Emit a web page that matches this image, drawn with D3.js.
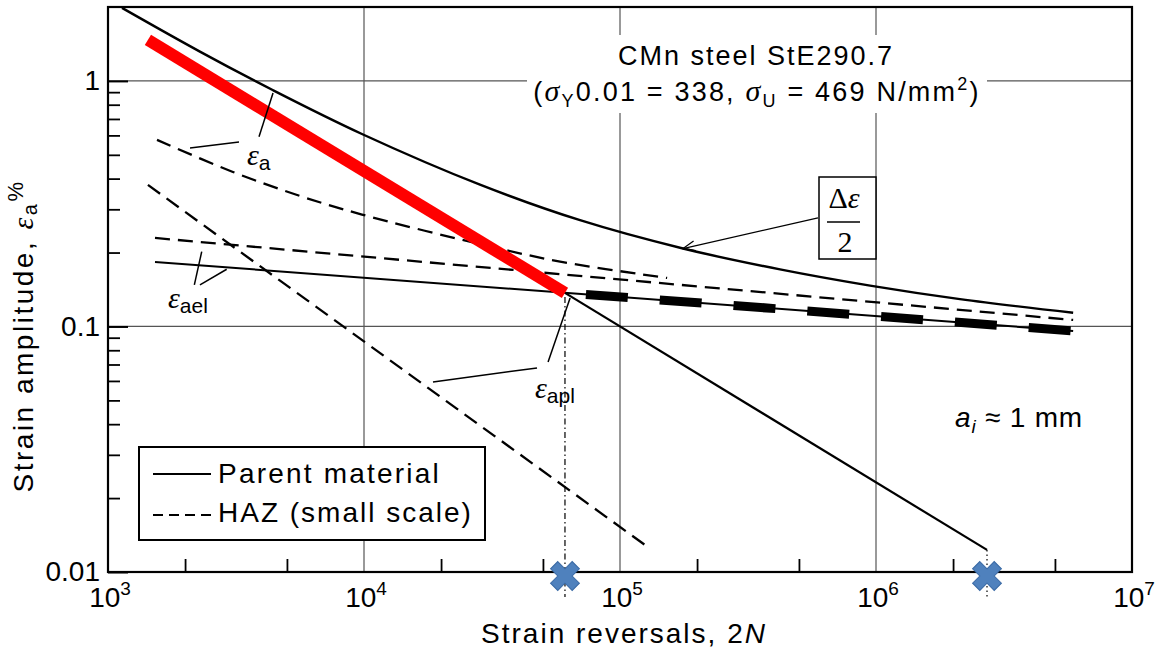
<!DOCTYPE html>
<html><head><meta charset="utf-8">
<script src="https://cdn.jsdelivr.net/npm/d3@7"></script>
<style>
body{margin:0;background:#fff;}
text{font-family:"Liberation Sans",Arial,sans-serif;fill:#000;}
</style></head><body>
<svg id="chart" width="1161" height="652"></svg>
<script>
// ---------------- DATA ----------------
// Parent material, total strain amplitude  Δε/2
const parentTotalN   = [1134, 2286, 4416, 9817, 28380, 69800, 176200, 421700, 948000, 2128000, 5890000];
const parentTotalEps = [1.983, 1.316, 0.916, 0.608, 0.378, 0.2708, 0.2077, 0.1707, 0.1466, 0.1292, 0.1137];
// Parent material, elastic part ε_ael (thin)
const parentElasticN   = [1526, 5890000];
const parentElasticEps = [0.183, 0.0959];
// Parent material, elastic part beyond transition (thick dashed)
const parentElasticHcfN   = [60960, 5890000];
const parentElasticHcfEps = [0.137, 0.0959];
// Parent material, plastic part ε_apl (red, low cycle range)
const parentPlasticLcfN   = [1432, 60960];
const parentPlasticLcfEps = [1.469, 0.137];
// Parent material, plastic part ε_apl (black, continuation)
const parentPlasticN   = [60960, 2714000];
const parentPlasticEps = [0.137, 0.0123];
// HAZ (small scale) total
const hazTotalN   = [1554, 3076, 5623, 9817, 28380, 58340, 152800];
const hazTotalEps = [0.575, 0.4258, 0.340, 0.2856, 0.2166, 0.1837, 0.1576];
// HAZ elastic
const hazElasticN   = [1526, 5890000];
const hazElasticEps = [0.2293, 0.1063];
// HAZ plastic
const hazPlasticN   = [1432, 125200];
const hazPlasticEps = [0.377, 0.01288];
// Marked reversals (blue crosses) and the point where each vertical guide starts
const markerN   = [60960, 2714000];
const markerEps = [0.137, 0.0123];
// Axis ticks
const xTickValues    = [1e3, 1e4, 1e5, 1e6, 1e7];
const xTickExponents = ["3", "4", "5", "6", "7"];
const xMinorTicks    = [2e3, 5e3, 2e4, 5e4, 2e5, 5e5, 2e6, 5e6];
const yTickValues    = [0.01, 0.1, 1];
const yTickLabels    = ["0.01", "0.1", "1"];
const yMinorTicks    = [0.02,0.03,0.04,0.05,0.06,0.07,0.08,0.09,0.2,0.3,0.4,0.5,0.6,0.7,0.8,0.9];
const legendLabels   = ["Parent material", "HAZ (small scale)"];
// Annotation leader lines, in data coordinates [N, ε]
const leaderLines = [
  [[4412, 0.893], [3889, 0.592]],
  [[2091, 0.533], [3249, 0.564]],
  [[2323, 0.2017], [2174, 0.1476]],
  [[2287, 0.1476], [2909, 0.171]],
  [[52360, 0.0717], [63830, 0.1306]],
  [[18600, 0.0594], [47400, 0.0678]]
];
const arrowLine = [[593400, 0.2767], [176200, 0.2077]];

// ---------------- CHART ----------------
const svg = d3.select("#chart");
const x = d3.scaleLog().domain([1e3, 1e7]).range([108, 1132]);
const y = d3.scaleLog().domain([0.01, 2]).range([572, 7]);
const [X0, X1] = x.range();
const [Y0, Y1] = y.range();

const zip = (a, b) => a.map((v, i) => [v, b[i]]);
const lineLin = d3.line().x(d => x(d[0])).y(d => y(d[1]));
const lineCurve = d3.line().x(d => x(d[0])).y(d => y(d[1])).curve(d3.curveCatmullRom.alpha(0.5));

svg.append("defs").append("marker")
  .attr("id", "arr").attr("viewBox", "0 0 14 12").attr("refX", 13).attr("refY", 6)
  .attr("markerWidth", 14).attr("markerHeight", 12).attr("markerUnits", "userSpaceOnUse")
  .attr("orient", "auto")
  .append("path").attr("d", "M1,1 L13,6 L1,11").attr("fill", "none")
  .attr("stroke", "#000").attr("stroke-width", 1.3);

// grid
const gGrid = svg.append("g");
gGrid.selectAll("line.gx").data([1e4, 1e5, 1e6]).join("line")
  .attr("x1", d => x(d)).attr("x2", d => x(d)).attr("y1", Y1).attr("y2", Y0)
  .attr("stroke", "#555").attr("stroke-width", 1.2);
gGrid.selectAll("line.gy").data([0.1, 1]).join("line")
  .attr("x1", X0).attr("x2", X1).attr("y1", d => y(d)).attr("y2", d => y(d))
  .attr("stroke", "#555").attr("stroke-width", 1.2);

// axes ticks
const yMinorAxis = d3.axisLeft(y).tickValues(yMinorTicks).tickSize(-12).tickFormat("");
const gyMinor = svg.append("g").attr("transform", `translate(${X0},0)`).call(yMinorAxis);
gyMinor.select(".domain").remove();
gyMinor.selectAll("line").attr("stroke", "#000").attr("stroke-width", 1.8);

const yMajorAxis = d3.axisLeft(y).tickValues(yTickValues).tickSize(-20).tickPadding(8)
  .tickFormat((d, i) => yTickLabels[i]);
const gyMajor = svg.append("g").attr("transform", `translate(${X0},0)`).call(yMajorAxis);
gyMajor.select(".domain").remove();
gyMajor.selectAll("line").attr("stroke", "#000").attr("stroke-width", 2);
gyMajor.selectAll("text").attr("font-size", 28).attr("font-family", "Liberation Sans, Arial, sans-serif")
  .attr("fill", "#000");

const xMinorAxis = d3.axisBottom(x).tickValues(xMinorTicks).tickSize(-13).tickFormat("");
const gxMinor = svg.append("g").attr("transform", `translate(0,${Y0})`).call(xMinorAxis);
gxMinor.select(".domain").remove();
gxMinor.selectAll("line").attr("stroke", "#000").attr("stroke-width", 1.8);

// x tick labels 10^n
const gxl = svg.append("g");
xTickValues.forEach((v, i) => {
  const t = gxl.append("text").attr("x", x(v) + 2).attr("y", 607)
    .attr("text-anchor", "middle").attr("font-size", 28);
  t.append("tspan").text("10");
  t.append("tspan").text(xTickExponents[i]).attr("font-size", 19).attr("dy", -12);
});

// frame
svg.append("rect").attr("x", X0).attr("y", Y1).attr("width", X1 - X0).attr("height", Y0 - Y1)
  .attr("fill", "none").attr("stroke", "#000").attr("stroke-width", 2.2);

// title white background
svg.append("rect").attr("x", 527).attr("y", 35).attr("width", 460).attr("height", 78).attr("fill", "#fff");

// ---------------- series ----------------
const gS = svg.append("g").attr("fill", "none");
// HAZ lines (dashed)
gS.append("path").attr("d", lineLin(zip(hazPlasticN, hazPlasticEps)))
  .attr("stroke", "#000").attr("stroke-width", 2.3).attr("stroke-dasharray", "15,8");
gS.append("path").attr("d", lineLin(zip(hazElasticN, hazElasticEps)))
  .attr("stroke", "#000").attr("stroke-width", 2.3).attr("stroke-dasharray", "15,8");
gS.append("path").attr("d", lineCurve(zip(hazTotalN, hazTotalEps)))
  .attr("stroke", "#000").attr("stroke-width", 2.3).attr("stroke-dasharray", "15,8");
// parent
gS.append("path").attr("d", lineLin(zip(parentElasticN, parentElasticEps)))
  .attr("stroke", "#000").attr("stroke-width", 2);
gS.append("path").attr("d", lineLin(zip(parentElasticHcfN, parentElasticHcfEps)))
  .attr("stroke", "#000").attr("stroke-width", 9).attr("stroke-dasharray", "42,32").attr("stroke-dashoffset", 53);
gS.append("path").attr("d", lineLin(zip(parentPlasticN, parentPlasticEps)))
  .attr("stroke", "#000").attr("stroke-width", 2.2);
gS.append("path").attr("d", lineCurve(zip(parentTotalN, parentTotalEps)))
  .attr("stroke", "#000").attr("stroke-width", 2.4);
gS.append("path").attr("d", lineLin(zip(parentPlasticLcfN, parentPlasticLcfEps)))
  .attr("stroke", "#ff0000").attr("stroke-width", 12);

// vertical guides to the marked reversals
gS.append("line").attr("x1", x(markerN[0])).attr("x2", x(markerN[0]))
  .attr("y1", y(markerEps[0]) + 4).attr("y2", 597)
  .attr("stroke", "#000").attr("stroke-width", 1.2).attr("stroke-dasharray", "6,3,1.5,3");
gS.append("line").attr("x1", x(markerN[1])).attr("x2", x(markerN[1]))
  .attr("y1", y(markerEps[1])).attr("y2", 597)
  .attr("stroke", "#000").attr("stroke-width", 1.2).attr("stroke-dasharray", "1.5,3");

// leader lines
svg.append("g").selectAll("path").data(leaderLines).join("path")
  .attr("d", d => lineLin(d)).attr("fill", "none").attr("stroke", "#000").attr("stroke-width", 1.5);
svg.append("path").attr("d", lineLin(arrowLine)).attr("fill", "none")
  .attr("stroke", "#000").attr("stroke-width", 1.3).attr("marker-end", "url(#arr)");

// markers
svg.append("g").selectAll("path").data(markerN).join("path")
  .attr("d", d3.symbol().type(d3.symbolCross).size(520))
  .attr("transform", d => `translate(${x(d)},${Y0 + 4}) rotate(45)`)
  .attr("fill", "#4F81BD").attr("stroke", "#3A6AA5").attr("stroke-width", 1);

// ---------------- text helpers ----------------
function rich(g, px, py, parts, anchor, baseSize, ls) {
  const t = g.append("text").attr("x", px).attr("y", py)
    .attr("text-anchor", anchor || "start").attr("font-size", baseSize || 28);
  if (ls) t.attr("letter-spacing", ls);
  let cur = 0;
  parts.forEach(p => {
    const s = p.shift || 0;
    const ts = t.append("tspan").text(p.t).attr("dy", s - cur);
    cur = s;
    if (p.size) ts.attr("font-size", p.size);
    if (p.italic) ts.attr("font-style", "italic");
    if (p.serif) ts.attr("font-family", "Liberation Serif, serif");
  });
  return t;
}
const gT = svg.append("g");

// title
rich(gT, 756, 65, [{t: "CMn steel StE290.7"}], "middle", 27, 2);
rich(gT, 757, 101, [
  {t: "("}, {t: "σ", italic: true, serif: true, size: 30}, {t: "Y", size: 18, shift: 6},
  {t: "0.01 = 338, "}, {t: "σ", italic: true, serif: true, size: 30}, {t: "U", size: 18, shift: 6},
  {t: " = 469 N/mm"}, {t: "2", size: 18, shift: -11}, {t: ")"}
], "middle", 27, 2.2);

// ε labels
rich(gT, 247, 165, [{t: "ε", italic: true, serif: true, size: 30}, {t: "a", size: 21, shift: 5}], "start", 28);
rich(gT, 168, 308, [{t: "ε", italic: true, serif: true, size: 30}, {t: "ael", size: 21, shift: 5}], "start", 28);
rich(gT, 535, 398, [{t: "ε", italic: true, serif: true, size: 30}, {t: "apl", size: 21, shift: 5}], "start", 28);

// a_i ≈ 1 mm
rich(gT, 955, 427, [{t: "a", italic: true}, {t: "i", italic: true, size: 19, shift: 6}, {t: " ≈ 1 mm"}], "start", 28, 0.8);

// Δε/2 box
svg.append("rect").attr("x", 819).attr("y", 177).attr("width", 57).attr("height", 82)
  .attr("fill", "#fff").attr("stroke", "#000").attr("stroke-width", 1.5);
svg.append("line").attr("x1", 827).attr("x2", 860).attr("y1", 222).attr("y2", 222)
  .attr("stroke", "#000").attr("stroke-width", 1.5);
const gBox = svg.append("g");
rich(gBox, 844, 208, [{t: "Δ", serif: true}, {t: "ε", serif: true, italic: true}], "middle", 30);
rich(gBox, 845, 252, [{t: "2", serif: true}], "middle", 30);

// legend
const gL = svg.append("g");
gL.append("rect").attr("x", 139).attr("y", 447).attr("width", 346).attr("height", 93)
  .attr("fill", "#fff").attr("stroke", "#000").attr("stroke-width", 2);
gL.append("line").attr("x1", 153).attr("x2", 211).attr("y1", 474).attr("y2", 474)
  .attr("stroke", "#000").attr("stroke-width", 2.2);
gL.append("line").attr("x1", 153).attr("x2", 211).attr("y1", 515).attr("y2", 515)
  .attr("stroke", "#000").attr("stroke-width", 2.2).attr("stroke-dasharray", "10,6");
rich(gL, 218, 483, [{t: legendLabels[0]}], "start", 28, 2.2);
rich(gL, 218, 522, [{t: legendLabels[1]}], "start", 28, 2);

// axis titles
rich(gT, 624, 643, [{t: "Strain reversals, 2"}, {t: "N", italic: true}], "middle", 28, 2);
const yl = svg.append("g").attr("transform", "translate(33,336) rotate(-90)");
rich(yl, 0, 0, [
  {t: "Strain amplitude, "}, {t: "ε", italic: true, serif: true, size: 30},
  {t: "a", size: 20, shift: 4}, {t: "%", size: 22, shift: -10}
], "middle", 28, 2.5);
</script>
</body></html>
